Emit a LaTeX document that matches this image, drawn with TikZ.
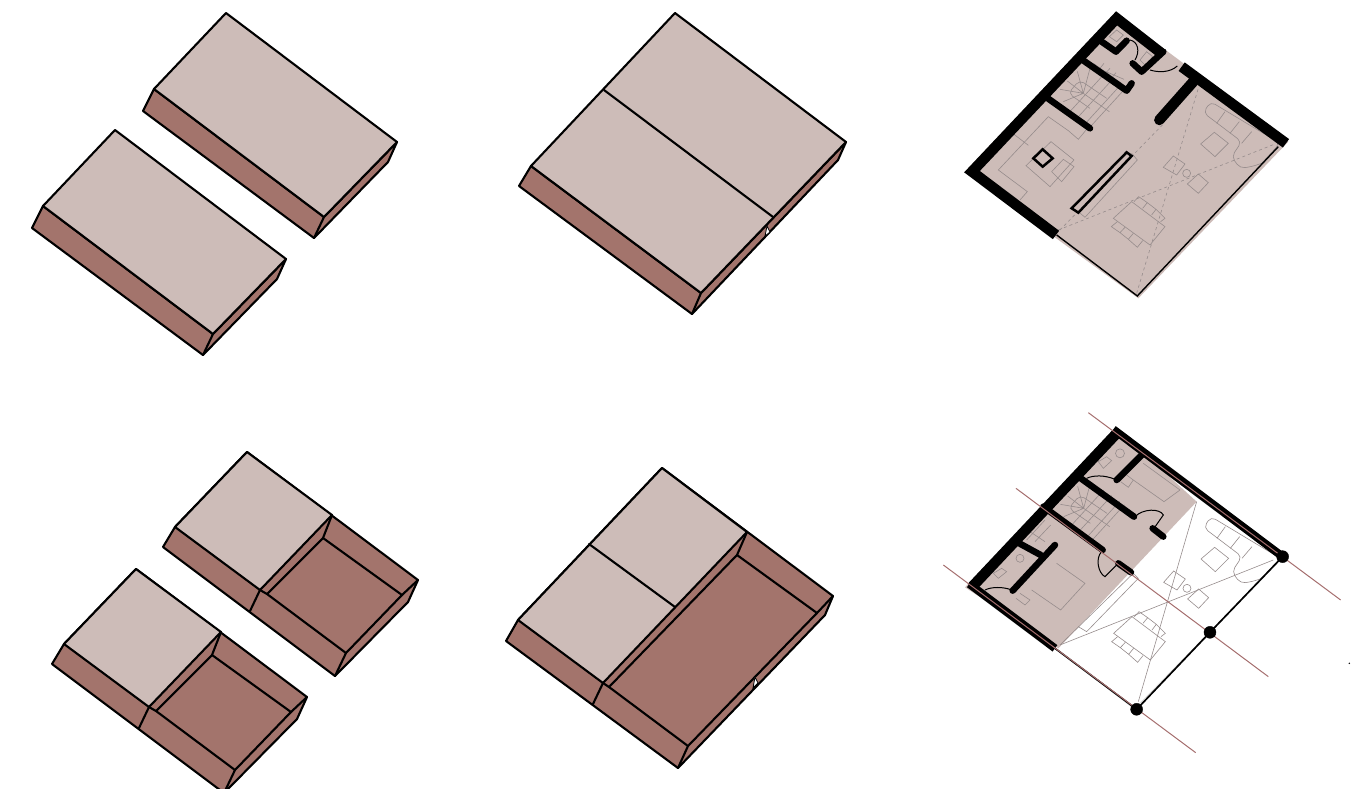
\documentclass[tikz,border=0pt]{standalone}
\usepackage{xcolor}
\usepackage{tikz}
\definecolor{palepink}{RGB}{205,188,184}
\definecolor{redbrown}{RGB}{163,116,108}
\definecolor{furngray}{RGB}{150,140,140}
\definecolor{axisred}{RGB}{165,110,110}

% furniture and stairs shared by both plans
\newcommand{\planfurn}{%
  \draw[furn, rounded corners=5pt] (935,490)--(990,430)--(782,305)--(760,338)--(875,425)--(845,470)--(870,505)--(905,500)--(935,490);
  \draw[furn] (825,335)--(800,370) (868,365)--(840,400) (905,395)--(875,430);
  \draw[furn] (793,397)--(835,430)--(795,470)--(752,432)--cycle;
  \draw[furn] (670,468)--(705,492)--(680,525)--(640,502)--cycle;
  \draw[furn] (745,522)--(775,548)--(745,580)--(712,552)--cycle;
  \draw[furn] (710,520) circle (4pt);
  \draw[furn] (545,605)--(645,680)--(600,735)--(490,655)--cycle;
  \draw[furn] (552,605)--(566,590)--(592,608)--(578,625) (592,608)--(618,628)--(605,645) (618,628)--(645,655)--(632,665);
  \draw[furn] (502,665)--(484,680)--(510,698)--(525,682) (510,698)--(535,718)--(550,700) (535,718)--(562,742)--(578,722);
}
\newcommand{\planstairs}{%
  \draw[furn, rounded corners=5pt] (470,295)--(389,240)--(355,280)--(420,325);
  \foreach \t in {0,1,2,2.6}
    \draw[furn] (355+\t*24,340+\t*17)--(460+\t*24,225+\t*17);
  \draw[furn] (400,280)--(478,335);
  \draw[furn] (400,280)--(330,268) (400,280)--(352,243) (400,280)--(382,214) (400,280)--(420,205) (400,280)--(340,305);
}

\begin{document}
\begin{tikzpicture}[x=1pt, y=-1pt,
    topface/.style={fill=palepink, draw=black, line width=2.1pt, line join=round},
    sideface/.style={fill=redbrown, draw=black, line width=2.1pt, line join=round},
    edge/.style={draw=black, line width=2.1pt, line cap=round},
    notch/.style={fill=white, draw=black, line width=0.8pt},
    zoomed/.style={x=0.3333pt, y=-0.3333pt},
    furn/.style={draw=furngray, line width=0.6pt},
    sight/.style={draw=furngray, line width=0.6pt, dashed},
    wallthick/.style={draw=black, line width=10.5pt, line join=miter},
    wallthin/.style={draw=black, line width=6.5pt, line join=round, line cap=round},
    swing/.style={draw=black, line width=1pt},
    axisline/.style={draw=axisred, line width=1pt},
    post/.style={fill=black, draw=black},
]
\clip (0,0) rectangle (1357,788);

% top row, two separate volumes
\foreach \dx/\dy in {0/0, -111/117} {
  \begin{scope}[shift={(\dx,\dy)}]
    \draw[sideface] (154,89)--(143,111)--(314,238)--(388,162)--(397,142)--(324,217)--cycle;
    \draw[topface] (226,13)--(397,142)--(324,217)--(154,89)--cycle;
    \draw[edge] (324,217)--(314,238);
  \end{scope}
}

% top row, joined volumes
\draw[sideface] (531,166)--(519,186)--(692,314)--(838,160)--(846,142)--(701,293)--cycle;
\draw[topface] (675,13)--(846,142)--(701,293)--(531,166)--cycle;
\draw[edge] (701,293)--(692,314);
\draw[edge] (604,90)--(773,217);
\draw[notch] (767,226)--(770,232)--(765,236)--cycle;

% bottom row, two separate volumes with open part
\foreach \dx/\dy in {0/0, -111/117} {
  \begin{scope}[shift={(\dx,\dy)}]
    \draw[sideface] (175,527)--(163,547)--(335,676)--(408,602)--(418,580)--(247,452)--cycle;
    \draw[topface] (247,452)--(332,515)--(260,590)--(175,527)--cycle;
    \draw[sideface] (323,538)--(402,595)--(346,653)--(267,594)--cycle;
    \draw[edge] (260,590)--(250,611);
    \draw[edge] (332,515)--(323,538);
    \draw[edge] (418,580)--(402,595);
    \draw[edge] (346,653)--(335,676);
    \draw[edge] (260,590)--(267,594);
  \end{scope}
}

% bottom row, joined volumes with open part
\draw[sideface] (518,620)--(506,641)--(678,768)--(825,615)--(833,596)--(662,468)--cycle;
\draw[topface] (662,468)--(747,532)--(603,683)--(518,620)--cycle;
\draw[sideface] (737,555)--(817,613)--(688,746)--(609,687)--cycle;
\draw[edge] (589,544)--(675,607);
\draw[edge] (603,683)--(593,704);
\draw[edge] (747,532)--(737,555);
\draw[edge] (833,596)--(817,613);
\draw[edge] (688,746)--(678,768);
\draw[edge] (603,683)--(609,687);
\draw[notch] (755,677)--(758,683)--(753,688)--cycle;

% upper plan
\begin{scope}[shift={(950,0)}, zoomed]
  \fill[palepink] (45,515)--(497,38)--(1015,425)--(565,895)--cycle;
  \planfurn
  \planstairs
  \draw[sight] (325,690)--(975,432);
  \draw[sight] (560,880)--(745,265);
  \draw[sight] (330,690)--(640,372);
  % living room
  \draw[furn] (210,600)--(232,575)--(145,510)--(295,350)--(355,392)--(385,418)--(410,388);
  \draw[furn] (228,497)--(303,425)--(372,480)--(300,560)--cycle;
  \draw[furn] (305,515)--(340,478)--(372,500)--(335,545)--cycle;
  \draw[furn] (188,400)--(235,436);
  \draw[furn] (545,460)--(562,480)--(405,652)--(385,635);
  % small rooms
  \draw[furn] (478,110)--(500,90)--(520,105)--(500,125)--cycle;
  \draw[furn] (570,180)--(590,155)--(608,170)--(585,195)--cycle;
  \draw[furn] (430,190)--(515,250) (445,205)--(522,238);
  \draw[furn] (462,190)--(450,205) (480,205)--(468,218) (498,218)--(486,232);
  % walls
  \draw[wallthick] (318,705)--(66,515)--(500,55)--(632,158);
  \draw[wallthick] (695,200)--(1008,430);
  \draw[wallthick, line cap=round] (730,245)--(628,360);
  \draw[wallthin] (640,155)--(575,215)--(548,190);
  \draw[wallthin] (445,118)--(498,155)--(530,122);
  \draw[wallthin] (385,171)--(530,272)--(545,250);
  \draw[wallthin] (285,289)--(420,385);
  \draw[draw=black, line width=2.5pt, fill=palepink] (530,457)--(545,468)--(385,638)--(365,625)--cycle;
  \draw[draw=black, line width=2.5pt] (278,448)--(308,475)--(278,500)--(250,475)--cycle;
  % doors and glazing
  \draw[swing] (540,120) .. controls (565,125) and (570,155) .. (555,180);
  \draw[swing] (600,210) .. controls (625,218) and (660,218) .. (682,198);
  \draw[draw=black, line width=1.4pt] (320,705)--(562,888)--(985,440);
\end{scope}

% lower plan
\begin{scope}[shift={(930,400)}, zoomed]
  \fill[palepink] (105,562)--(560,85)--(800,305)--(385,745)--cycle;
  \begin{scope}[shift={(61,45)}]
    \planfurn
    \planstairs
  \end{scope}
  \draw[furn] (390,735)--(1030,480);
  \draw[furn] (625,905)--(800,305);
  \draw[furn] (390,735)--(610,520);
  \draw[furn] (610,520)--(625,535)--(470,695)--(445,680);
  % bedrooms
  \draw[furn] (640,190)--(750,270)--(702,305)--(610,240);
  \draw[furn] (590,225)--(610,240)--(595,262)--(572,245);
  \draw[furn] (570,160) circle (4.5pt);
  \draw[furn] (505,185)--(530,170)--(545,182)--(520,205)--cycle;
  \draw[furn] (380,490)--(465,550)--(392,630)--(305,570);
  \draw[furn] (270,580)--(300,600)--(285,615)--(258,595);
  \draw[furn] (270,475) circle (4pt);
  \draw[furn] (190,520)--(215,505)--(230,515)--(205,535)--cycle;
  \draw[furn] (345,360)--(290,420) (362,375)--(315,425) (300,395)--(345,425);
  % walls
  \draw[wallthick] (125,562)--(560,100);
  \draw[wallthick, line width=8pt] (375,745)--(118,552);
  \draw[wallthick, line width=8pt] (550,88)--(1058,470);
  \draw[wallthin] (640,160)--(560,240);
  \draw[wallthin] (440,226)--(612,350);
  \draw[wallthin] (668,385)--(700,410);
  \draw[wallthin] (340,320)--(518,450);
  \draw[wallthin] (565,490)--(603,517);
  \draw[wallthin] (375,435)--(248,572);
  \draw[wallthin] (255,423)--(332,465);
  % doors
  \draw[swing] (470,235) .. controls (490,225) and (525,225) .. (555,238);
  \draw[swing] (615,350) .. controls (640,325) and (690,325) .. (700,345)--(672,385);
  \draw[swing] (515,455) .. controls (495,475) and (505,520) .. (525,530)--(565,490);
  \draw[swing] (165,570) .. controls (185,560) and (220,560) .. (245,570);
  % front and axes
  \draw[draw=gray!35, line width=0.5pt] (1045,485)--(830,705)--(625,915) (395,760)--(610,925);
  \draw[draw=black, line width=1.7pt] (1058,470)--(840,697)--(620,928)--(375,745);
  \draw[axisline] (475,38)--(1232,600);
  \draw[axisline] (258,265)--(1015,830);
  \draw[axisline] (40,495)--(797,1058);
  \fill[post] (1058,470) circle (6pt);
  \fill[post] (840,697) circle (6pt);
  \fill[post] (620,928) circle (6pt);
  \fill[black] (1258,790) circle (0.8pt);
\end{scope}
\end{tikzpicture}
\end{document}
